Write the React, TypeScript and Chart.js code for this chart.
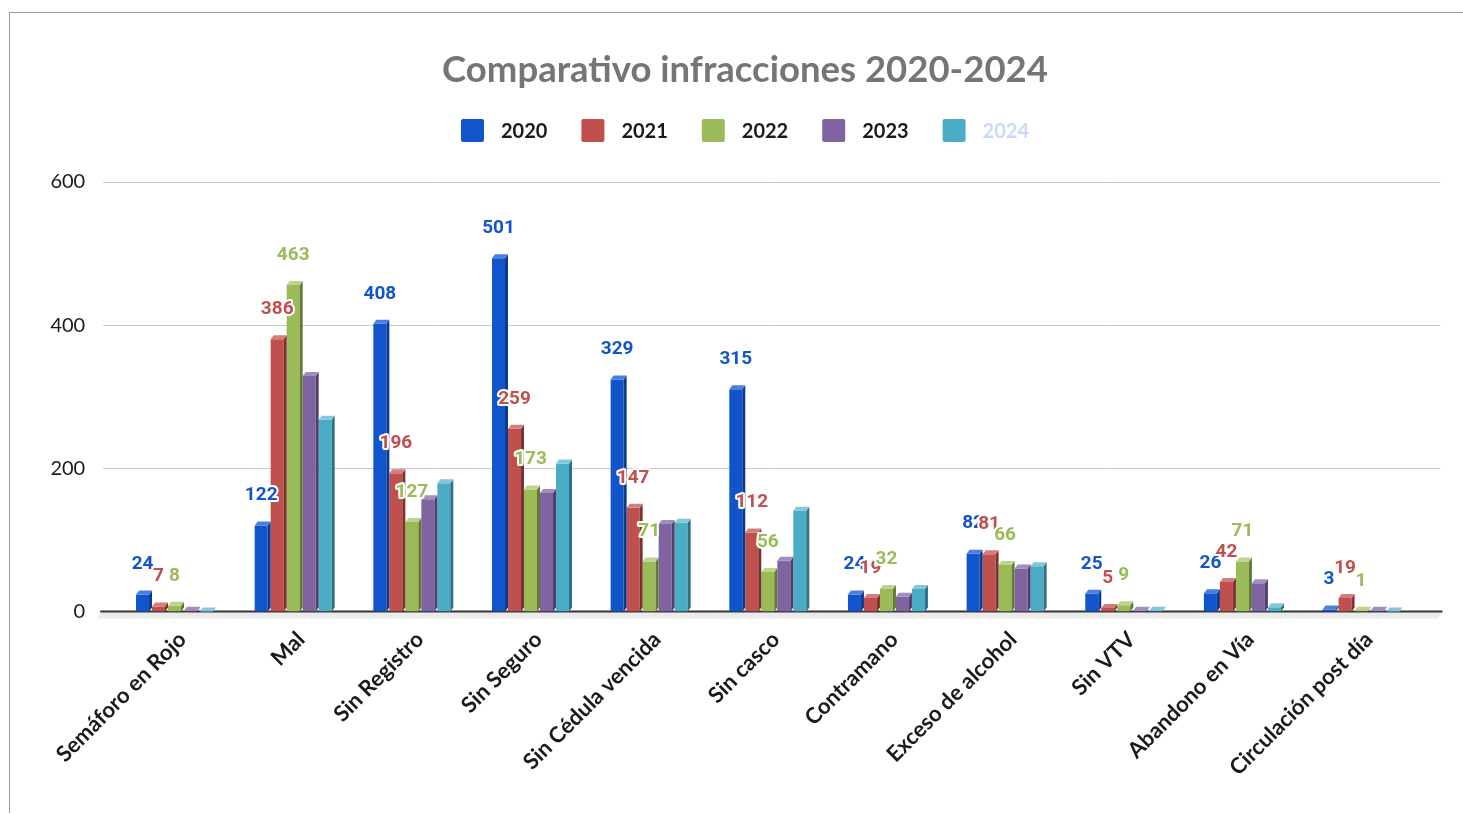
import React, { useEffect, useRef } from "react";
import { Chart, registerables } from "chart.js";

Chart.register(...registerables);

// ---------- data ----------
const chartTitle = "Comparativo infracciones 2020-2024";
const categories = [
  "Semáforo en Rojo",
  "Mal",
  "Sin Registro",
  "Sin Seguro",
  "Sin Cédula vencida",
  "Sin casco",
  "Contramano",
  "Exceso de alcohol",
  "Sin VTV",
  "Abandono en Vía",
  "Circulación post día",
];
const seriesNames = ["2020", "2021", "2022", "2023", "2024"];
const values2020 = [24, 122, 408, 501, 329, 315, 24, 82, 25, 26, 3];
const values2021 = [7, 386, 196, 259, 147, 112, 19, 81, 5, 42, 19];
const values2022 = [8, 463, 127, 173, 71, 56, 32, 66, 9, 71, 1];
const values2023 = [1, 334, 159, 168, 124, 72, 21, 61, 1, 40, 1];
const values2024 = [0, 272, 182, 210, 126, 143, 32, 64, 1, 6, 0];
const yTickValues = [0, 200, 400, 600];
const labeledSeries = ["2020", "2021", "2022"];

// ---------- styles ----------
const frontColors = ["#1155cc", "#c0504d", "#9bbb59", "#8064a2", "#4bacc6"];
const sideColors = ["#0b3a8e", "#7d3230", "#627a36", "#52406c", "#2f7184"];
const topColors = ["#4a7fe0", "#d47e7b", "#bcd48b", "#a38cc2", "#82c7da"];
const legendTextColors = ["#1a1a1a", "#1a1a1a", "#1a1a1a", "#1a1a1a", "#c9daf8"];

const CANVAS_W = 1453;
const CANVAS_H = 800;
const PAD_LEFT = 19.6;
const PAD_RIGHT = 2.6;
const X_AXIS_H = 201.5;
const Y_AXIS_W = 85.6;
const RIGHT_AXIS_W = 40;
const BAR_AXIS_MAX = 609;
const DEPTH_X = 3;
const DEPTH_Y = 4;

const allValues = [values2020, values2021, values2022, values2023, values2024];

const threeDPlugin = {
  id: "threeD",
  beforeDatasetsDraw(chart: any) {
    const { ctx, chartArea } = chart;
    const y2 = chart.scales.y2;
    ctx.save();
    // grid lines on back wall
    ctx.strokeStyle = "#c8c8c8";
    ctx.lineWidth = 1;
    for (const t of y2.ticks) {
      if (t.value === 0) continue;
      const py = Math.round(y2.getPixelForValue(t.value)) + 0.5;
      ctx.beginPath();
      ctx.moveTo(chartArea.left - 12, py);
      ctx.lineTo(chartArea.right + 20, py);
      ctx.stroke();
    }
    // floor band
    const zy = y2.getPixelForValue(0);
    ctx.fillStyle = "#ebebeb";
    ctx.beginPath();
    ctx.moveTo(chartArea.left - 15, zy + 1);
    ctx.lineTo(chartArea.right + 22, zy + 1);
    ctx.lineTo(chartArea.right + 17, zy + 7);
    ctx.lineTo(chartArea.left - 18, zy + 7);
    ctx.closePath();
    ctx.fill();
    // zero axis line
    ctx.strokeStyle = "#333333";
    ctx.lineWidth = 2;
    ctx.beginPath();
    ctx.moveTo(chartArea.left - 15, zy);
    ctx.lineTo(chartArea.right + 22, zy);
    ctx.stroke();
    ctx.restore();
  },
  afterDatasetsDraw(chart: any) {
    const { ctx } = chart;
    ctx.save();
    chart.data.datasets.forEach((ds: any, di: number) => {
      const meta = chart.getDatasetMeta(di);
      meta.data.forEach((el: any) => {
        const { x, y, base, width } = el.getProps(["x", "y", "base", "width"], true);
        const r = x + width / 2;
        const l = x - width / 2;
        // side
        ctx.fillStyle = sideColors[di];
        ctx.beginPath();
        ctx.moveTo(r, y);
        ctx.lineTo(r + DEPTH_X, y - DEPTH_Y);
        ctx.lineTo(r + DEPTH_X, base - DEPTH_Y);
        ctx.lineTo(r, base);
        ctx.closePath();
        ctx.fill();
        // top
        ctx.fillStyle = topColors[di];
        ctx.beginPath();
        ctx.moveTo(l, y);
        ctx.lineTo(l + DEPTH_X, y - DEPTH_Y);
        ctx.lineTo(r + DEPTH_X, y - DEPTH_Y);
        ctx.lineTo(r, y);
        ctx.closePath();
        ctx.fill();
      });
    });
    // data labels
    ctx.font = "bold 19px Roboto";
    ctx.textAlign = "center";
    ctx.textBaseline = "middle";
    ctx.lineJoin = "round";
    chart.data.datasets.forEach((ds: any, di: number) => {
      if (!labeledSeries.includes(ds.label)) return;
      const meta = chart.getDatasetMeta(di);
      meta.data.forEach((el: any, i: number) => {
        const text = String(ds.data[i]);
        const ly = el.y - 30;
        ctx.strokeStyle = "#ffffff";
        ctx.lineWidth = 4;
        ctx.strokeText(text, el.x, ly);
        ctx.fillStyle = frontColors[di];
        ctx.fillText(text, el.x, ly);
      });
    });
    ctx.restore();
  },
  afterDraw(chart: any) {
    const { ctx } = chart;
    ctx.save();
    ctx.font = "bold 20px Lato";
    ctx.textBaseline = "middle";
    ctx.textAlign = "left";
    const box = 23;
    const gapText = 17;
    const gapItem = 34;
    const items = chart.data.datasets.map((ds: any, i: number) => ({
      text: ds.label,
      color: frontColors[i],
      textColor: legendTextColors[i],
      w: ctx.measureText(ds.label).width,
    }));
    const total =
      items.reduce((s: number, it: any) => s + box + gapText + it.w, 0) +
      gapItem * (items.length - 1);
    const center = (PAD_LEFT + chart.width - PAD_RIGHT) / 2;
    let x = center - total / 2;
    const boxTop = 106;
    items.forEach((it: any) => {
      ctx.fillStyle = it.color;
      ctx.beginPath();
      if ((ctx as any).roundRect) (ctx as any).roundRect(x, boxTop, box, box, 2);
      else ctx.rect(x, boxTop, box, box);
      ctx.fill();
      ctx.fillStyle = it.textColor;
      ctx.fillText(it.text, x + box + gapText, boxTop + box / 2 + 1);
      x += box + gapText + it.w + gapItem;
    });
    ctx.restore();
  },
};

export default function App() {
  const ref = useRef<HTMLCanvasElement>(null);
  useEffect(() => {
    Chart.defaults.font.family = "Lato";
    const chart = new Chart(ref.current as HTMLCanvasElement, {
      type: "bar",
      data: {
        labels: categories,
        datasets: seriesNames.map((name, i) => ({
          label: name,
          data: allValues[i],
          backgroundColor: frontColors[i],
          borderWidth: 0,
          barPercentage: 13 / 16,
          categoryPercentage: 80 / 118.65,
        })),
      },
      options: {
        responsive: false,
        animation: false,
        layout: { padding: { left: PAD_LEFT, right: PAD_RIGHT, top: 0, bottom: 0 } },
        plugins: {
          legend: { display: false },
          tooltip: { enabled: false },
          title: {
            display: true,
            text: chartTitle,
            color: "#757575",
            font: { family: "Lato", size: 36.5, weight: "bold" },
            padding: { top: 35.1, bottom: 90.1 },
          },
        },
        scales: {
          x: {
            grid: { display: false, drawTicks: false },
            border: { display: false },
            ticks: {
              autoSkip: false,
              maxRotation: 45,
              minRotation: 45,
              padding: 15,
              labelOffset: 8,
              color: "#1a1a1a",
              font: { family: "Lato", size: 22, weight: "bold" },
            },
            afterFit: (scale: any) => {
              scale.height = X_AXIS_H;
            },
          },
          y: {
            display: false,
            min: 0,
            max: BAR_AXIS_MAX,
          },
          y2: {
            axis: "y",
            position: "left",
            min: 0,
            max: 600,
            grid: { display: false, drawTicks: false },
            border: { display: false },
            ticks: {
              padding: 30,
              color: "#1a1a1a",
              font: { family: "Lato", size: 20 },
            },
            afterBuildTicks: (scale: any) => {
              scale.ticks = yTickValues.map((v) => ({ value: v }));
            },
            afterFit: (scale: any) => {
              scale.width = Y_AXIS_W;
            },
          },
          yR: {
            axis: "y",
            position: "right",
            display: true,
            grid: { display: false, drawTicks: false },
            border: { display: false },
            ticks: { display: false },
            afterFit: (scale: any) => {
              scale.width = RIGHT_AXIS_W;
            },
          },
        } as any,
      },
      plugins: [threeDPlugin],
    } as any);
    return () => chart.destroy();
  }, []);

  return (
    <div
      style={{
        position: "absolute",
        left: 9,
        top: 12,
        width: CANVAS_W,
        height: CANVAS_H,
        borderLeft: "1px solid #9e9e9e",
        borderTop: "1px solid #9e9e9e",
        background: "#ffffff",
      }}
    >
      <canvas ref={ref} width={CANVAS_W} height={CANVAS_H} style={{ display: "block" }} />
    </div>
  );
}
